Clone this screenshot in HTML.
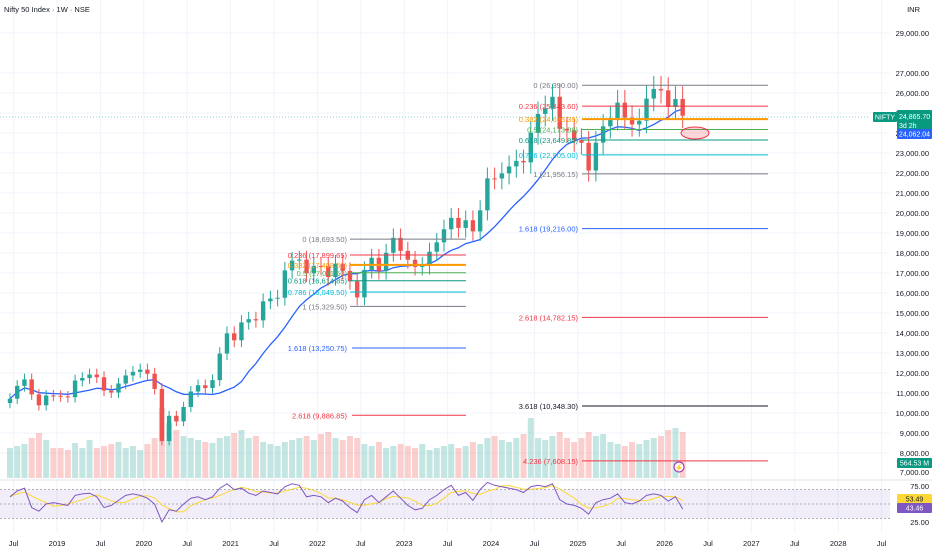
<!DOCTYPE html>
<html><head><meta charset="utf-8">
<style>
html,body{margin:0;padding:0;background:#fff;}
body{width:932px;height:550px;overflow:hidden;font-family:"Liberation Sans",sans-serif;}
svg{display:block}
text{font-family:"Liberation Sans",sans-serif;}
</style></head>
<body>
<svg id="chart" width="932" height="550" viewBox="0 0 932 550"></svg>
<script>
const months = ["2018-06","2018-07","2018-08","2018-09","2018-10","2018-11","2018-12",
"2019-01","2019-02","2019-03","2019-04","2019-05","2019-06","2019-07","2019-08","2019-09","2019-10","2019-11","2019-12",
"2020-01","2020-02","2020-03","2020-04","2020-05","2020-06","2020-07","2020-08","2020-09","2020-10","2020-11","2020-12",
"2021-01","2021-02","2021-03","2021-04","2021-05","2021-06","2021-07","2021-08","2021-09","2021-10","2021-11","2021-12",
"2022-01","2022-02","2022-03","2022-04","2022-05","2022-06","2022-07","2022-08","2022-09","2022-10","2022-11","2022-12",
"2023-01","2023-02","2023-03","2023-04","2023-05","2023-06","2023-07","2023-08","2023-09","2023-10","2023-11","2023-12",
"2024-01","2024-02","2024-03","2024-04","2024-05","2024-06","2024-07","2024-08","2024-09","2024-10","2024-11","2024-12",
"2025-01","2025-02","2025-03","2025-04","2025-05","2025-06","2025-07","2025-08","2025-09","2025-10","2025-11","2025-12",
"2026-01","2026-02","2026-03"];
const closes = [10714,11356,11680,10930,10386,10876,10862,
10830,10792,11624,11748,11922,11788,11118,11023,11474,11877,12056,12168,
11962,11202,8598,9860,9580,10302,11073,11388,11248,11642,12969,13982,
13635,14529,14691,14631,15583,15722,15763,17132,17618,17672,16983,17354,
17340,16794,17465,17103,16585,15780,17158,17759,17094,18012,18758,18105,
17662,17304,17360,18065,18534,19189,19754,19254,19638,19080,20133,21731,
21726,21983,22327,22605,22531,24011,24951,25236,25811,24205,24131,23645,
23508,22125,23519,24334,24751,25517,24768,24427,24611,25722,26203,26130,
25300,25700,24866];
const firstOpen = 10500;
const volumes = [30,32,34,40,45,38,30,
30,28,35,30,38,30,32,34,36,30,32,28,
34,40,70,55,48,42,40,38,36,35,40,42,
45,48,40,42,36,34,32,36,38,40,42,38,
44,46,40,38,42,40,34,32,36,30,32,34,
32,30,34,28,30,32,34,30,32,36,34,40,
42,38,36,40,44,60,40,38,42,46,40,36,
40,46,42,44,36,34,32,36,34,38,40,42,
48,50,46];
const rsi = [60,68,72,45,40,50,52,
50,48,62,64,65,60,45,48,55,62,64,62,
58,50,25,42,40,50,58,60,56,60,72,78,
70,72,65,62,68,66,64,74,78,76,60,62,
60,52,58,54,45,38,56,62,52,60,68,58,
48,42,44,56,62,70,76,62,66,55,70,80,
76,74,72,70,66,74,76,74,78,56,50,48,
44,36,52,56,58,64,52,50,54,62,64,62,
54,60,43];
const priceTicks = [29000,27000,26000,25000,24000,23000,22000,21000,20000,19000,18000,17000,16000,15000,14000,13000,12000,11000,10000,9000,8000];
const timeTicks = [["Jul",2018.5],["2019",2019],["Jul",2019.5],["2020",2020],["Jul",2020.5],["2021",2021],["Jul",2021.5],["2022",2022],["Jul",2022.5],["2023",2023],["Jul",2023.5],["2024",2024],["Jul",2024.5],["2025",2025],["Jul",2025.5],["2026",2026],["Jul",2026.5],["2027",2027],["Jul",2027.5],["2028",2028],["Jul",2028.5]];
const fibA = [["0",18693.50,"#787b86"],["0.236",17899.65,"#f23645"],["0.382",17408.50,"#ff9800"],["0.5",17011.50,"#4caf50"],["0.618",16614.85,"#089981"],["0.786",16049.50,"#00bcd4"],["1",15329.50,"#787b86"],["1.618",13250.75,"#2962ff"],["2.618",9886.85,"#f23645"]];
const fibB = [["0",26390.00,"#787b86"],["0.236",25343.60,"#f23645"],["0.382",24696.35,"#ff9800"],["0.5",24173.08,"#4caf50"],["0.618",23649.80,"#089981"],["0.786",22905.00,"#00bcd4"],["1",21956.15,"#787b86"],["1.618",19216.00,"#2962ff"],["2.618",14782.15,"#f23645"],["3.618",10348.30,"#131722"],["4.236",7608.15,"#f23645"]];

const NS="http://www.w3.org/2000/svg";
const svg=document.getElementById('chart');
function el(tag,attrs,parent){const e=document.createElementNS(NS,tag);for(const k in attrs)e.setAttribute(k,attrs[k]);(parent||svg).appendChild(e);return e;}
const yP = p => 613 - 0.02*p;
const xT = t => 57 + (t-2019)*86.8;
const tOf = m => {const [y,mo]=m.split('-').map(Number);return y+(mo-0.5)/12;};
const yR = v => 486 + (75-v)*0.72;
const yV = 478;
const fmt = v => v.toLocaleString('en-US',{minimumFractionDigits:2,maximumFractionDigits:2});

for(const [lab,t] of timeTicks){const l=el('line',{x1:xT(t),x2:xT(t),y1:0,y2:533,stroke:'#f0f3fa'});

}
for(const p of priceTicks){const l=el('line',{x1:0,x2:890,y1:yP(p),y2:yP(p),stroke:'#f0f3fa'});

}

months.forEach((m,i)=>{const o=i?closes[i-1]:firstOpen;const up=closes[i]>=o;
const r=el('rect',{x:xT(tOf(m))-3,y:yV-volumes[i],width:6,height:volumes[i],fill:up?'rgba(38,166,154,0.28)':'rgba(239,83,80,0.28)'});

});

let pts=[];closes.forEach((c,i)=>{const s=closes.slice(Math.max(0,i-11),i+1);const a=s.reduce((x,y)=>x+y,0)/s.length;pts.push(xT(tOf(months[i])).toFixed(1)+','+yP(a).toFixed(1));});
const ma=el('polyline',{points:pts.join(' '),fill:'none',stroke:'#2962ff',"stroke-width":1.3});



months.forEach((m,i)=>{const o=i?closes[i-1]:firstOpen,c=closes[i];const up=c>=o;const col=up?'#26a69a':'#ef5350';const x=xT(tOf(m));
const hi=Math.max(o,c)*1.025,lo=Math.min(o,c)*0.975;
const g=el('g',{});


el('line',{x1:x,x2:x,y1:yP(hi),y2:yP(lo),stroke:col,"stroke-width":1},g);
el('rect',{x:x-2.2,y:yP(Math.max(o,c)),width:4.4,height:Math.max(1,Math.abs(yP(o)-yP(c))),fill:col},g);});

function drawFib(arr,x1,x2,xe,lx){arr.forEach(([lv,p,col],i)=>{const ext=parseFloat(lv)>1;const g=el('g',{});


el('line',{x1:ext?xe:x1,x2:x2,y1:yP(p),y2:yP(p),stroke:col,"stroke-width":lv==="0.382"?2:1},g);
const t=el('text',{x:lx,y:yP(p)+3,"text-anchor":"end","font-size":7.5,fill:col},g);t.textContent=lv+' ('+fmt(p)+')';});}
drawFib(fibA,350,466,352,347);
drawFib(fibB,582,768,582,578);

const cpl=el('line',{x1:0,x2:870,y1:117,y2:117,stroke:'#26a69a',"stroke-dasharray":'1 2',"stroke-width":0.6});


const ell=el('ellipse',{cx:695,cy:133,rx:14,ry:6,fill:'rgba(242,54,69,0.2)',stroke:'#f23645',"stroke-width":1});


const bolt=el('circle',{cx:679,cy:467,r:5,fill:'#fff',stroke:'#9c27b0',"stroke-width":1});


const boltT=el('text',{x:679,y:470,"text-anchor":"middle","font-size":7,fill:'#9c27b0'});boltT.textContent='⚡';


const band=el('rect',{x:0,y:yR(70),width:890,height:yR(30)-yR(70),fill:'rgba(126,87,194,0.1)'});


[70,50,30].forEach(v=>{const l=el('line',{x1:0,x2:890,y1:yR(v),y2:yR(v),stroke:'#9598a1',"stroke-dasharray":'2 2',"stroke-width":0.8});

});
const rp=rsi.map((v,i)=>xT(tOf(months[i])).toFixed(1)+','+yR(v).toFixed(1)).join(' ');
const rma=rsi.map((v,i)=>{const s=rsi.slice(Math.max(0,i-3),i+1);return xT(tOf(months[i])).toFixed(1)+','+yR(s.reduce((a,b)=>a+b,0)/s.length).toFixed(1);}).join(' ');
const rmaL=el('polyline',{points:rma,fill:'none',stroke:'#fdd835',"stroke-width":1});


const rl=el('polyline',{points:rp,fill:'none',stroke:'#7e57c2',"stroke-width":1});


const sep=el('line',{x1:0,x2:932,y1:480,y2:480,stroke:'#e0e3eb'});



priceTicks.forEach(p=>{const t=el('text',{x:929,y:yP(p)+3,"text-anchor":"end","font-size":7.5,fill:'#131722'});


t.textContent=fmt(p);});
function tag(x,y,w,h,fill,txt,name,fc){const g=el('g',{});
el('rect',{x:x,y:y,width:w,height:h,fill:fill,rx:1},g);const t=el('text',{x:x+w/2,y:y+h-2.5,"text-anchor":"middle","font-size":7,fill:fc||'#fff'},g);t.textContent=txt;return g;}
tag(873,112,24,10,'#089981','NIFTY','symbol-tag');
tag(897,110,35,20,'#089981','','last-price-tag');
let t1=el('text',{x:899,y:119,"font-size":7,fill:'#fff'});t1.textContent='24,865.70';

let t2=el('text',{x:899,y:128,"font-size":7,fill:'#fff'});t2.textContent='3d 2h';

tag(897,129,35,10,'#2962ff','24,062.04','ma-value-tag');
tag(897,458,35,10,'#089981','564.53 M','volume-value-tag');
tag(897,494,35,10,'#fdd835','53.49','rsi-ma-tag','#131722');
tag(897,503,35,10,'#7e57c2','43.46','rsi-value-tag');
[[75,'75.00'],[25,'25.00']].forEach(([v,s])=>{const t=el('text',{x:929,y:yR(v)+3,"text-anchor":"end","font-size":7.5,fill:'#131722'});
t.textContent=s;});
let t7=el('text',{x:929,y:475,"text-anchor":"end","font-size":7.5,fill:'#131722'});t7.textContent='7,000.00';

let inr=el('text',{x:920,y:12,"text-anchor":"end","font-size":7.5,fill:'#131722'});inr.textContent='INR';


timeTicks.forEach(([lab,t])=>{const e=el('text',{x:xT(t),y:546,"text-anchor":"middle","font-size":7.5,fill:'#131722'});
e.textContent=lab;});

let title=el('text',{x:4,y:12,"font-size":7.5,fill:'#131722'});title.textContent='Nifty 50 Index · 1W · NSE';

</script>
</body></html>
